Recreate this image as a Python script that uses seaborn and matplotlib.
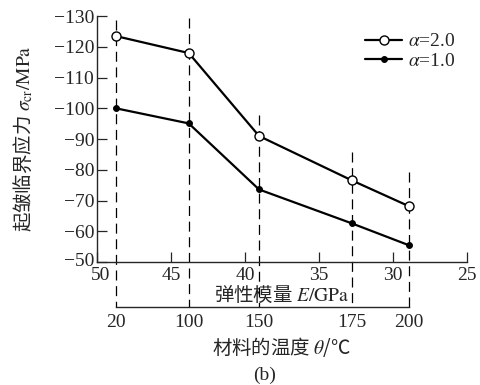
import pandas as pd
import matplotlib.pyplot as plt
import matplotlib.transforms as mtransforms
import seaborn as sns

# elastic modulus at each temperature, GPa
modulus = [48.7, 43.8, 39.05, 32.8, 28.9]
temps = ['20', '100', '150', '175', '200']
stress_a2 = [-123.5, -118.0, -91.0, -76.6, -68.1]
stress_a1 = [-100.0, -95.1, -73.6, -62.6, -55.4]
guide_top = [-128.7, -129.3, -97.8, -85.7, -79.2]
e_ticks = [50, 45, 40, 35, 30, 25]
s_ticks = [-130, -120, -110, -100, -90, -80, -70, -60, -50]

sns.set_style('ticks')
plt.rcParams['font.family'] = ['Liberation Serif', 'Noto Sans CJK SC']
plt.rcParams['mathtext.fontset'] = 'stix'
plt.rcParams['axes.unicode_minus'] = True

CJK = 'Noto Sans CJK SC'
FS = 14

df = pd.DataFrame({
    'E': modulus * 2,
    'stress': stress_a2 + stress_a1,
    'alpha': ['a2'] * 5 + ['a1'] * 5,
})

fig = plt.figure(figsize=(4.8, 3.85), dpi=100)
ax = fig.add_axes([0.202, 0.3195, 0.771, 0.6385])

sns.lineplot(data=df[df.alpha == 'a2'], x='E', y='stress', ax=ax,
             color='black', lw=1.6, marker='o', markersize=6.5,
             markerfacecolor='white', markeredgecolor='black', markeredgewidth=1.0,
             label='$\\alpha$=2.0')
sns.lineplot(data=df[df.alpha == 'a1'], x='E', y='stress', ax=ax,
             color='black', lw=1.6, marker='o', markersize=4.2,
             markerfacecolor='black', markeredgecolor='black',
             label='$\\alpha$=1.0')

# dashed guide lines down to the temperature axis
for e, top in zip(modulus, guide_top):
    ax.plot([e, e], [top, -35.3], ls=(0, (8, 4.5)), color='black', lw=0.9,
            clip_on=False, zorder=1)

ax.set_xlim(50, 25)
ax.set_ylim(-50, -130)
ax.set_xticks(e_ticks)
ax.set_xticklabels([str(t) for t in e_ticks], fontsize=FS)
ax.set_yticks(s_ticks)
ax.set_yticklabels(['\u2212' + str(-t) for t in s_ticks], fontsize=FS)
ax.tick_params(direction='in', length=7, width=0.9, pad=2)
ax.tick_params(axis='x', pad=3.5)
for s in ['top', 'right']:
    ax.spines[s].set_visible(False)
for s in ['left', 'bottom']:
    ax.spines[s].set_linewidth(1.0)
ax.set_xlabel('弹性模量 $E/\\mathrm{GPa}$', fontsize=FS, family=CJK, labelpad=0)
ax.set_ylabel('起皱临界应力 $\\sigma_{\\rm cr}/\\mathrm{MPa}$', fontsize=FS,
              family=CJK, labelpad=13)

# nudge the corner labels apart a little
shift = mtransforms.ScaledTranslation(4 / 100, 0, fig.dpi_scale_trans)
lab50 = ax.get_xticklabels()[0]
lab50.set_transform(lab50.get_transform() + shift)
up = mtransforms.ScaledTranslation(0, 2 / 100, fig.dpi_scale_trans)
labm50 = ax.get_yticklabels()[-1]
labm50.set_transform(labm50.get_transform() + up)

ax2 = ax.twiny()
ax2.set_xlim(50, 25)
ax2.xaxis.set_ticks_position('bottom')
ax2.xaxis.set_label_position('bottom')
ax2.spines['bottom'].set_position(('outward', 32.5))
ax2.spines['bottom'].set_bounds(modulus[0], modulus[-1])
ax2.spines['bottom'].set_linewidth(1.0)
for s in ['top', 'right', 'left']:
    ax2.spines[s].set_visible(False)
ax2.set_xticks(modulus)
ax2.set_xticklabels(temps, fontsize=FS)
ax2.tick_params(axis='x', length=0, pad=5)
ax2.set_xlabel('材料的温度 $\\theta$/℃', fontsize=FS, family=CJK, labelpad=3)

leg = ax.legend(loc='upper right', bbox_to_anchor=(1.0, 0.98), frameon=False,
                fontsize=FS, handlelength=1.9, handletextpad=0.3,
                labelspacing=0.1, borderaxespad=0.2)

fig.text(0.552, 0.026, '(b)', ha='center', va='center', fontsize=FS)

fig.savefig('out.png', dpi=100)
